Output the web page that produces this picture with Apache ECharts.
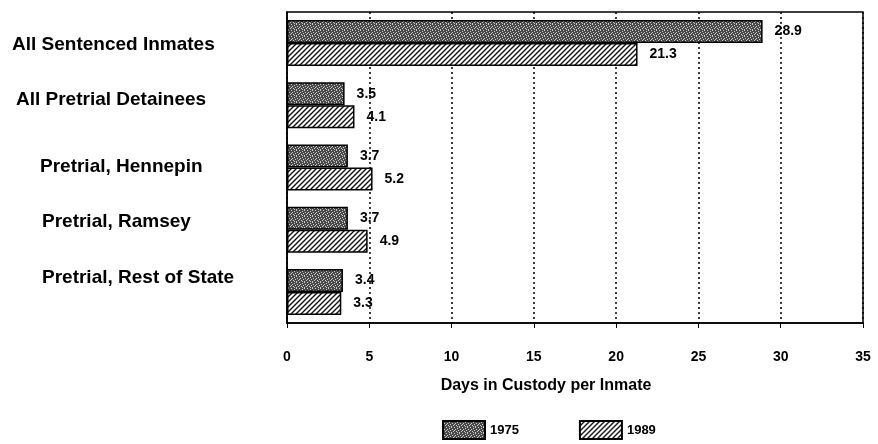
<!DOCTYPE html>
<html lang="en">
<head>
    <meta charset="UTF-8">
    <title>Days in Custody per Inmate</title>
    <script src="https://cdn.jsdelivr.net/npm/echarts@6/dist/echarts.min.js"></script>
</head>
<body style="margin:0;background:#fff;">
<div id="main" style="width: 878px;height:444px;"></div>
<script>
    var categories = ['All Sentenced Inmates', 'All Pretrial Detainees', 'Pretrial, Hennepin', 'Pretrial, Ramsey', 'Pretrial, Rest of State'];
    var years = ['1975', '1989'];
    var values1975 = [28.9, 3.5, 3.7, 3.7, 3.4];
    var values1989 = [21.3, 4.1, 5.2, 4.9, 3.3];
    var xTicks = [0, 5, 10, 15, 20, 25, 30, 35];

    // stipple fill for 1975
    function stipple() {
        var c = document.createElement('canvas');
        c.width = 8; c.height = 6;
        var ctx = c.getContext('2d');
        ctx.fillStyle = '#4a4a4a';
        ctx.fillRect(0, 0, 8, 6);
        ctx.fillStyle = '#c8c8c8';
        var dots = [[0,0],[3,0],[6,1],[1,2],[4,2],[7,3],[2,4],[5,4],[0,5],[6,5],[3,3]];
        dots.forEach(function (d) { ctx.fillRect(d[0], d[1], 1, 1); });
        return c;
    }
    // diagonal hatch for 1989
    function hatch() {
        var c = document.createElement('canvas');
        c.width = 5; c.height = 5;
        var ctx = c.getContext('2d');
        ctx.fillStyle = '#fff';
        ctx.fillRect(0, 0, 5, 5);
        ctx.strokeStyle = '#111';
        ctx.lineWidth = 1.4;
        ctx.beginPath();
        ctx.moveTo(-1, 6); ctx.lineTo(6, -1);
        ctx.moveTo(-1, 1); ctx.lineTo(1, -1);
        ctx.moveTo(4, 6); ctx.lineTo(6, 4);
        ctx.stroke();
        return c;
    }

    var myChart = echarts.init(document.getElementById('main'));
    var font = 'Liberation Sans, Arial, sans-serif';
    var labelStyle = {
        show: true,
        position: 'right',
        distance: 12,
        color: '#000',
        fontFamily: font,
        fontWeight: 'bold',
        fontSize: 14
    };

    var option = {
        backgroundColor: '#fff',
        animation: false,
        grid: {
            left: 287, right: 15, top: 12, bottom: 121,
            show: true, borderColor: '#000', borderWidth: 1.5
        },
        legend: {
            data: years,
            left: 437, top: 415,
            icon: 'rect',
            itemWidth: 42, itemHeight: 18,
            itemGap: 60,
            textStyle: {color: '#000', fontFamily: font, fontWeight: 'bold', fontSize: 13}
        },
        xAxis: {
            type: 'value',
            min: 0, max: 35, interval: 5,
            name: 'Days in Custody per Inmate',
            nameLocation: 'middle',
            nameGap: 55,
            nameTextStyle: {color: '#000', fontFamily: font, fontWeight: 'bold', fontSize: 16, padding: [0, 58, 0, 0]},
            axisLine: {show: true, lineStyle: {color: '#000', width: 1.5}},
            axisTick: {show: true, length: 5, lineStyle: {color: '#000'}},
            axisLabel: {
                margin: 27, color: '#000', fontFamily: font, fontWeight: 'bold', fontSize: 14,
                formatter: function (v) { return xTicks.indexOf(v) >= 0 ? String(v) : ''; }
            },
            splitLine: {show: true, lineStyle: {color: '#000', type: [2, 3], width: 1.5}}
        },
        yAxis: {
            type: 'category',
            inverse: true,
            data: categories,
            axisLine: {show: true, lineStyle: {color: '#000', width: 1.5}},
            axisTick: {show: false},
            axisLabel: {
                align: 'left',
                margin: 275,
                color: '#000',
                fontFamily: font,
                fontWeight: 'bold',
                fontSize: 19,
                formatter: function (v, i) { return '{c' + i + '|' + v + '}'; },
                rich: {
                    c0: {padding: [4, 0, 0, 0]},
                    c1: {padding: [0, 0, 12, 4]},
                    c2: {padding: [0, 0, 2, 28]},
                    c3: {padding: [0, 0, 16, 30]},
                    c4: {padding: [0, 0, 28, 30]}
                }
            }
        },
        series: [
            {
                name: '1975',
                type: 'bar',
                data: values1975,
                barWidth: 23,
                barGap: '0%',
                itemStyle: {color: {image: stipple(), repeat: 'repeat'}, borderColor: '#000', borderWidth: 1.5},
                label: labelStyle
            },
            {
                name: '1989',
                type: 'bar',
                data: values1989,
                barWidth: 23,
                itemStyle: {color: {image: hatch(), repeat: 'repeat'}, borderColor: '#000', borderWidth: 1.5},
                label: labelStyle
            }
        ]
    };

    myChart.setOption(option);
</script>
</body>
</html>
